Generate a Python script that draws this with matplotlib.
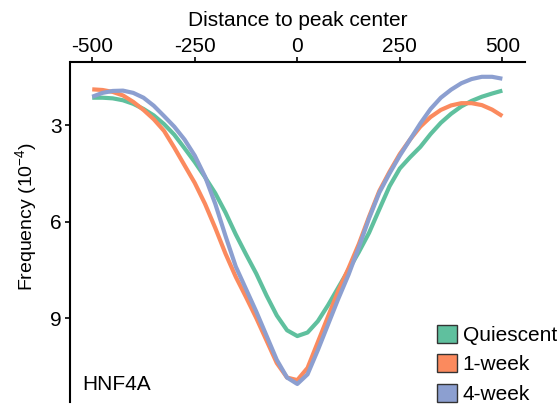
import numpy as np
import matplotlib
matplotlib.use("Agg")
import matplotlib.pyplot as plt
from matplotlib.patches import Patch

plt.rcParams['font.family'] = ['Liberation Sans', 'DejaVu Sans']
plt.rcParams['mathtext.fontset'] = 'custom'
plt.rcParams['mathtext.rm'] = 'Liberation Sans'
plt.rcParams['mathtext.it'] = 'Liberation Sans'
plt.rcParams['axes.unicode_minus'] = False

# distance to peak center (bp)
distance = np.arange(-500, 501, 25)

quiescent = [2.15, 2.15, 2.17, 2.23, 2.34, 2.50, 2.70, 2.97, 3.30, 3.72,
             4.15, 4.62, 5.12, 5.72, 6.40, 7.02, 7.62, 8.30, 8.92, 9.38,
             9.56, 9.45, 9.10, 8.60, 8.05, 7.50, 6.95, 6.35, 5.62, 4.90,
             4.35, 4.00, 3.68, 3.28, 2.93, 2.65, 2.42, 2.25, 2.12, 2.02, 1.93]

week1 = [1.89, 1.91, 1.97, 2.08, 2.28, 2.53, 2.82, 3.18, 3.70, 4.25,
         4.80, 5.45, 6.20, 7.00, 7.72, 8.35, 9.00, 9.70, 10.40, 10.85,
         10.93, 10.55, 9.75, 8.95, 8.15, 7.45, 6.70, 5.85, 5.05, 4.45,
         3.90, 3.45, 3.05, 2.75, 2.53, 2.39, 2.32, 2.32, 2.38, 2.52, 2.72]

week4 = [2.12, 2.00, 1.94, 1.93, 2.00, 2.15, 2.40, 2.72, 3.05, 3.45,
         3.95, 4.60, 5.45, 6.45, 7.40, 8.10, 8.80, 9.55, 10.30, 10.85,
         11.05, 10.75, 10.00, 9.20, 8.40, 7.65, 6.80, 5.90, 5.10, 4.50,
         3.95, 3.45, 2.95, 2.50, 2.15, 1.90, 1.70, 1.57, 1.50, 1.50, 1.56]

labels = ['Quiescent', '1-week', '4-week']
colors = ['#5fc09e', '#fb8a5e', '#8c9fd0']
xticks = [-500, -250, 0, 250, 500]
yticks = [3, 6, 9]

fig = plt.figure(figsize=(5.57, 4.04), dpi=100)
ax = fig.add_axes([70.5/557, 2/404, 454/557, 340/404])

for y, c in zip([quiescent, week1, week4], colors):
    ax.plot(distance, y, color=c, lw=3.0, solid_joinstyle='round',
            solid_capstyle='butt')

ax.set_xlim(-553, 554)
ax.set_ylim(11.61, 1.04)
ax.xaxis.tick_top()
ax.xaxis.set_label_position('top')
ax.set_xticks(xticks)
ax.set_yticks(yticks)
ax.tick_params(labelsize=15, width=1.2, length=3.5, pad=3)
ax.tick_params(axis='x', pad=0.5)
ax.set_xlabel('Distance to peak center', fontsize=15, labelpad=8)
ax.set_ylabel('Frequency (10$^{-4}$)', fontsize=14)
ax.yaxis.set_label_coords(-0.069, 0.545)
for s in ['bottom', 'right']:
    ax.spines[s].set_visible(False)
for s in ['top', 'left']:
    ax.spines[s].set_linewidth(1.5)

fig.text(82/557, 1 - 385/404, 'HNF4A', fontsize=15, va='center')

handles = [Patch(facecolor=c, edgecolor='#333333', lw=1) for c in colors]
fig.legend(handles, labels, loc='lower right', bbox_to_anchor=(1.0, 0.0),
           frameon=False, fontsize=15, handlelength=0.95, handleheight=0.95,
           handletextpad=0.3, labelspacing=0.45, borderpad=0, borderaxespad=0)

fig.savefig('out.png', dpi=100)
